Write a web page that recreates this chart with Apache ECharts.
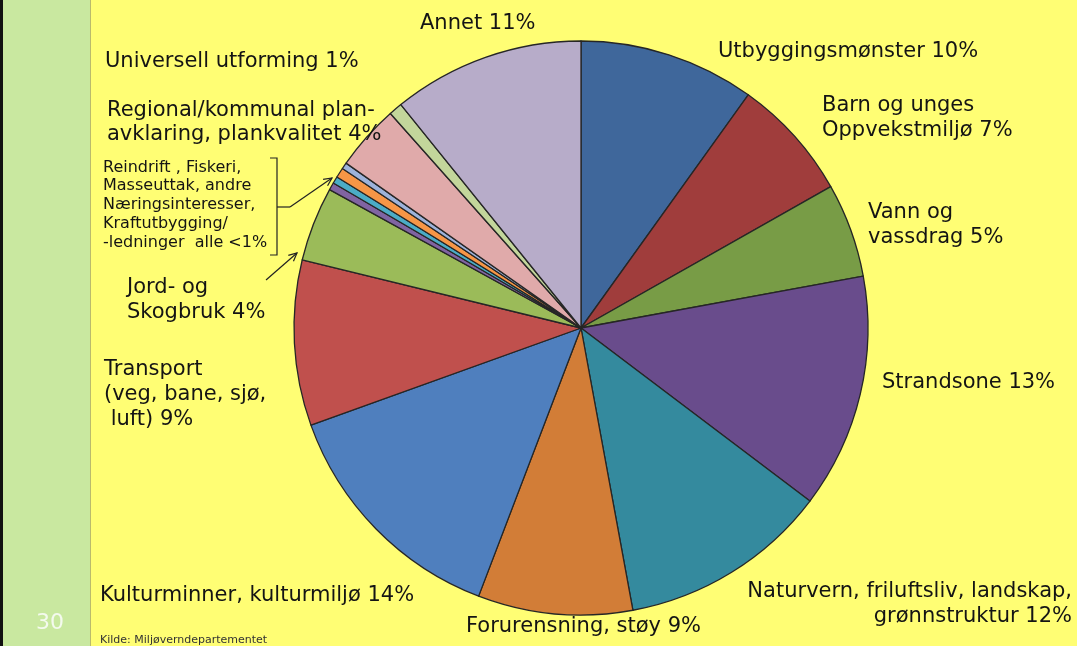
<!DOCTYPE html>
<html><head><meta charset="utf-8">
<script src="https://cdn.jsdelivr.net/npm/echarts@6/dist/echarts.min.js"></script>
<style>html,body{margin:0;padding:0;background:#FFFE74}#c{width:1077px;height:646px}</style>
</head><body><div id="c"></div>
<script>
// ---- data ----
const categories = [
  'Utbyggingsmønster', 'Barn og unges Oppvekstmiljø', 'Vann og vassdrag', 'Strandsone',
  'Naturvern, friluftsliv, landskap, grønnstruktur', 'Forurensning, støy', 'Kulturminner, kulturmiljø',
  'Transport (veg, bane, sjø, luft)', 'Jord- og Skogbruk', 'Reindrift', 'Fiskeri',
  'Masseuttak, andre Næringsinteresser', 'Kraftutbygging/-ledninger',
  'Regional/kommunal planavklaring, plankvalitet', 'Universell utforming', 'Annet'
];
const shares = [9.9, 6.9, 5.3, 13.2, 11.8, 8.7, 13.7, 9.3, 4.2, 0.42, 0.39, 0.56, 0.36, 3.7, 0.76, 10.8];
const labelTexts = [
  'Utbyggingsmønster 10%',
  'Barn og unges\nOppvekstmiljø 7%',
  'Vann og\nvassdrag 5%',
  'Strandsone 13%',
  'Naturvern, friluftsliv, landskap,\ngrønnstruktur 12%',
  'Forurensning, støy 9%',
  'Kulturminner, kulturmiljø 14%',
  'Transport\n(veg, bane, sjø,\n luft) 9%',
  'Jord- og\nSkogbruk 4%',
  'Reindrift , Fiskeri,\nMasseuttak, andre\nNæringsinteresser,\nKraftutbygging/\n-ledninger  alle <1%',
  '', '', '',
  'Regional/kommunal plan-\navklaring, plankvalitet 4%',
  'Universell utforming 1%',
  'Annet 11%'
];
const pageNumber = '30';
const sourceNote = 'Kilde: Miljøverndepartementet';

// ---- style / layout ----
const colors = ['#3F679B', '#A03D3C', '#789C46', '#694C8C', '#348A9E', '#D27D37', '#4F7FBE', '#C0504D',
  '#9BBB59', '#8064A2', '#4BACC6', '#F79646', '#9DB3DA', '#E0AAAA', '#C3D69B', '#B7ACC9'];
const labelAnchors = [
  [718, 52, 'left'], [822, 118, 'left'], [868, 225, 'left'], [882, 383, 'left'], [1072, 604, 'right'],
  [466, 627, 'left'], [100, 596, 'left'], [104, 395, 'left'], [127, 300, 'left'], [103, 205, 'left'],
  null, null, null, [107, 123, 'left'], [105, 62, 'left'], [420, 24, 'left']
];
const FONT = '"DejaVu Sans", Verdana, sans-serif';

function arrow(x1, y1, x2, y2) {
  const a = Math.atan2(y2 - y1, x2 - x1), L = 9, s = 0.45;
  return [
    { type: 'polyline', shape: { points: [[x1, y1], [x2, y2]] }, style: { stroke: '#222', lineWidth: 1.2, fill: null } },
    { type: 'polyline', shape: { points: [[x2 - L * Math.cos(a - s), y2 - L * Math.sin(a - s)], [x2, y2], [x2 - L * Math.cos(a + s), y2 - L * Math.sin(a + s)]] },
      style: { stroke: '#222', lineWidth: 1.2, fill: null } }
  ];
}

const data = categories.map((name, i) => {
  const t = labelTexts[i];
  const item = { name, value: shares[i], itemStyle: { color: colors[i] } };
  if (!t) item.label = { show: false };
  else item.label = {
    show: true, formatter: t,
    fontSize: i === 9 ? 16 : 21,
    lineHeight: i === 9 ? 18.8 : (i === 13 ? 24 : 25)
  };
  return item;
});

const chart = echarts.init(document.getElementById('c'), null, { renderer: 'canvas' });
chart.setOption({
  backgroundColor: '#FFFE74',
  animation: false,
  graphic: [
    { type: 'rect', shape: { x: 0, y: 0, width: 91, height: 646 }, style: { fill: '#C9E8A0' }, z: 0 },
    { type: 'rect', shape: { x: 0, y: 0, width: 3, height: 646 }, style: { fill: '#111' }, z: 1 },
    { type: 'line', shape: { x1: 90.5, y1: 0, x2: 90.5, y2: 646 }, style: { stroke: '#B9BA6C', lineWidth: 1 }, z: 1 },
    { type: 'text', x: 50, y: 623, style: { text: pageNumber, fill: '#F4FAEE', font: '22px ' + FONT, align: 'center', verticalAlign: 'middle' }, z: 2 },
    { type: 'text', x: 100, y: 640, style: { text: sourceNote, fill: '#333', font: '11px ' + FONT, align: 'left', verticalAlign: 'middle' }, z: 2 },
    { type: 'polyline', shape: { points: [[270, 158], [277, 158], [277, 255], [270, 255]] }, style: { stroke: '#222', lineWidth: 1.2, fill: null } },
    { type: 'polyline', shape: { points: [[277, 207], [290, 207]] }, style: { stroke: '#222', lineWidth: 1.2, fill: null } },
    ...arrow(290, 207, 332, 178),
    ...arrow(266, 280, 297, 253)
  ],
  series: [{
    type: 'pie',
    center: [581, 328],
    radius: 287,
    startAngle: 90,
    clockwise: true,
    avoidLabelOverlap: false,
    silent: true,
    emphasis: { disabled: true },
    itemStyle: { borderColor: '#262626', borderWidth: 1.3 },
    label: { position: 'outside', color: '#141414', fontFamily: FONT, fontSize: 21 },
    labelLine: { show: false },
    labelLayout: function (p) {
      const a = labelAnchors[p.dataIndex];
      if (!a) return {};
      return { x: a[0], y: a[1], align: a[2], verticalAlign: 'middle' };
    },
    data
  }]
});
</script></body></html>
